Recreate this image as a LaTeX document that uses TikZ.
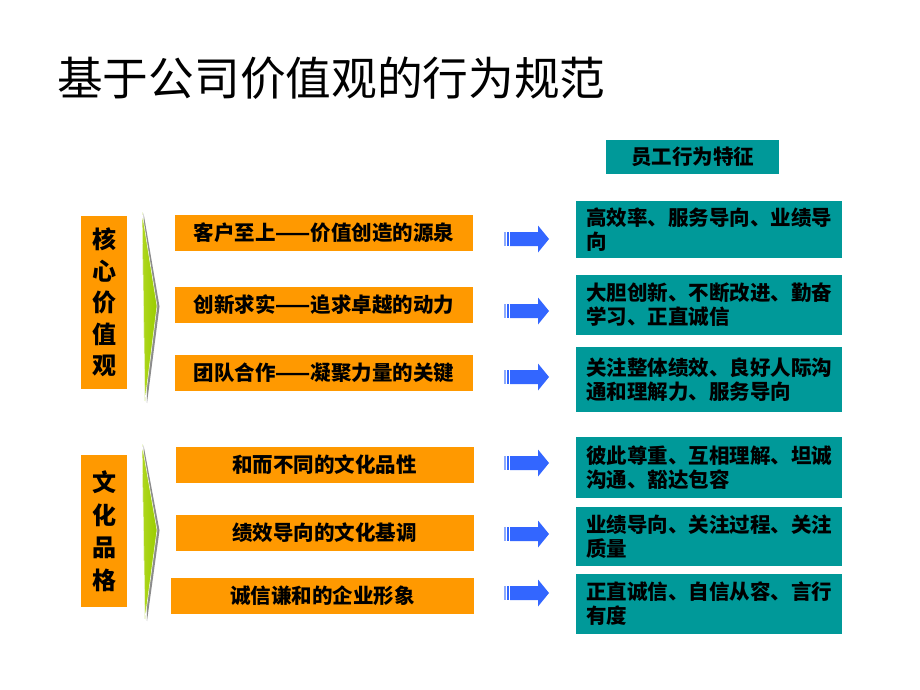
\documentclass[tikz,border=0pt]{standalone}
\usepackage{fontspec}
\newfontfamily\cjk{Noto Sans CJK SC}
\definecolor{orng}{RGB}{255,153,0}
\definecolor{tealbox}{RGB}{0,153,153}
\definecolor{blu}{RGB}{51,102,255}
\definecolor{blulight}{RGB}{140,170,255}
\definecolor{grn}{RGB}{153,204,0}
\definecolor{grnlight}{RGB}{175,215,30}
\definecolor{shd}{RGB}{140,140,140}
\begin{document}
\begin{tikzpicture}[x=1pt,y=-1pt,
  bar/.style={fill=orng, minimum width=298pt, minimum height=36pt, inner sep=0pt,
    font=\cjk\bfseries\fontsize{20.5}{24}\selectfont},
  sidebox/.style={fill=orng, minimum width=46pt, inner sep=0pt, align=center},
  behbox/.style={fill=tealbox, text width=246pt, inner xsep=10pt, inner ysep=0pt,
    align=left, font=\cjk\bfseries\fontsize{20.5}{24}\selectfont},
  headbox/.style={fill=tealbox, minimum width=173pt, minimum height=34pt, inner sep=0pt,
    font=\cjk\bfseries\fontsize{20.5}{24}\selectfont},
  chevron/.style={fill=grn, left color=grnlight, right color=grn, draw=white, line width=0.5pt},
  chevshadow/.style={fill=shd},
  blkarrow/.pic={
    \fill[blulight] (0,-7) rectangle (1.6,7);
    \fill[blu] (3,-7) rectangle (4.6,7);
    \fill[blu] (6,-7) -- (34,-7) -- (34,-13.5) -- (45,0) -- (34,13.5) -- (34,7) -- (6,7) -- cycle;
  }]
\useasboundingbox[fill=white] (0,0) rectangle (920,690);

% title
\node[anchor=west, inner sep=0pt, font=\cjk\fontsize{45.7}{50}\selectfont] (title) at (57,78) {基于公司价值观的行为规范};

% header
\node[headbox] (head) at (692.5,157) {员工行为特征};

% side boxes
\node[sidebox, minimum height=173pt, font=\cjk\bfseries\fontsize{24}{31.5}\selectfont] (core) at (104,302.5) {核\\心\\价\\值\\观};
\node[sidebox, minimum height=152pt, font=\cjk\bfseries\fontsize{24}{32.5}\selectfont] (cult) at (104,531) {文\\化\\品\\格};

% chevrons
\fill[chevshadow] (143.5,213) -- (159.5,306.5) -- (147,403) -- cycle;
\path[chevron] (142,212) -- (157,306) -- (145,401) -- cycle;
\fill[chevshadow] (143.5,445) -- (159.5,530.5) -- (147,621) -- cycle;
\path[chevron] (142,444) -- (157,530) -- (145,619) -- cycle;

% orange bars
\node[bar] (b1) at (324,233) {客户至上——价值创造的源泉};
\node[bar] (b2) at (324,305) {创新求实——追求卓越的动力};
\node[bar] (b3) at (324,373) {团队合作——凝聚力量的关键};
\node[bar] (b4) at (324.5,465) {和而不同的文化品性};
\node[bar] (b5) at (324.5,532.5) {绩效导向的文化基调};
\node[bar, minimum width=303pt] (b6) at (322.5,595.5) {诚信谦和的企业形象};

% behaviour boxes
\node[behbox, minimum height=57pt] (e1) at (709,229.5) {高效率、服务导向、业绩导\\向};
\node[behbox, minimum height=60pt] (e2) at (709,305) {大胆创新、不断改进、勤奋\\学习、正直诚信};
\node[behbox, minimum height=65pt] (e3) at (709,379.5) {关注整体绩效、良好人际沟\\通和理解力、服务导向};
\node[behbox, minimum height=61pt] (e4) at (709,467.5) {彼此尊重、互相理解、坦诚\\沟通、豁达包容};
\node[behbox, minimum height=59pt] (e5) at (709,536.5) {业绩导向、关注过程、关注\\质量};
\node[behbox, minimum height=60pt] (e6) at (709,604) {正直诚信、自信从容、言行\\有度};

% block arrows
\pic at (504,239) {blkarrow};
\pic at (504,311) {blkarrow};
\pic at (504,377) {blkarrow};
\pic at (504,463) {blkarrow};
\pic at (504,534) {blkarrow};
\pic at (504,593) {blkarrow};
\end{tikzpicture}
\end{document}
